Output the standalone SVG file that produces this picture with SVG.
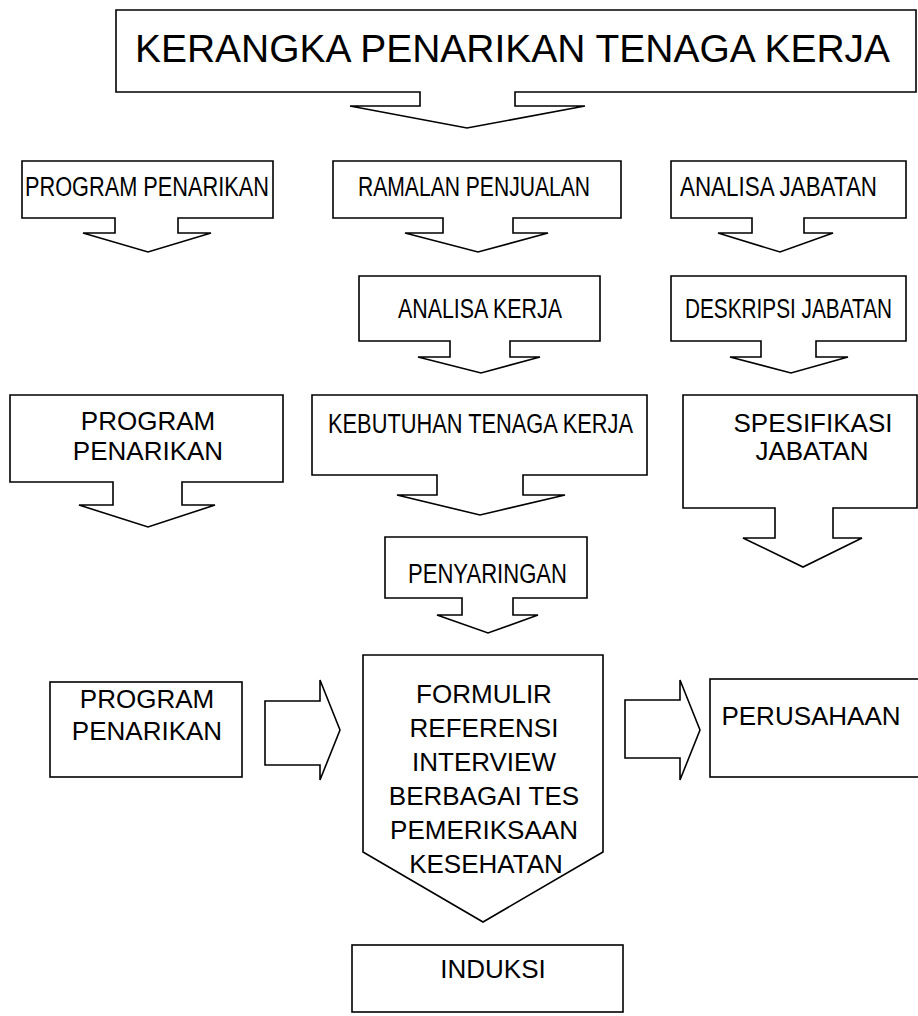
<svg xmlns="http://www.w3.org/2000/svg" width="918" height="1016" viewBox="0 0 918 1016">
<style>
.s{fill:#fff;stroke:#000;stroke-width:1.6;stroke-linejoin:miter}
.t{font-family:"Liberation Sans",Arial,sans-serif;font-size:26px;fill:#000;text-anchor:middle}
.n{font-family:"Liberation Sans Narrow","Liberation Sans",Arial,sans-serif;font-size:27px;fill:#000}
</style>
<rect width="918" height="1016" fill="#fff"/>
<g id="title">
<path class="s" d="M116,10 H916 V92 H515 V106 H585 L467,128 L350,106 H420 V92 H116 Z"/>
<text class="t" style="font-size:39px;text-anchor:start" x="135" y="62" textLength="755" lengthAdjust="spacingAndGlyphs">KERANGKA PENARIKAN TENAGA KERJA</text>
</g>
<g id="program1">
<path class="s" d="M22,161 H273 V218 H178 V233 H211 L148,252 L83,233 H115 V218 H22 Z"/>
<text class="n" x="25" y="196" textLength="244" lengthAdjust="spacingAndGlyphs">PROGRAM PENARIKAN</text>
</g>
<g id="ramalan">
<path class="s" d="M333,161 H621 V218 H513 V233 H548 L478,252 L405,233 H443 V218 H333 Z"/>
<text class="n" x="358" y="196" textLength="232" lengthAdjust="spacingAndGlyphs">RAMALAN PENJUALAN</text>
</g>
<g id="analisa-jabatan">
<path class="s" d="M671,161 H906 V218 H804 V233 H833 L780,252 L718,233 H752 V218 H671 Z"/>
<text class="n" x="680" y="196" textLength="197" lengthAdjust="spacingAndGlyphs">ANALISA JABATAN</text>
</g>
<g id="analisa-kerja">
<path class="s" d="M359,276 H600 V341 H510 V357 H540 L481,373 L418,357 H450 V341 H359 Z"/>
<text class="n" x="398" y="318" textLength="164" lengthAdjust="spacingAndGlyphs">ANALISA KERJA</text>
</g>
<g id="deskripsi">
<path class="s" d="M671,276 H906 V341 H816 V357 H848 L791,373 L730,357 H761 V341 H671 Z"/>
<text style="font-family:'Liberation Sans',Arial,sans-serif;font-size:27px;text-anchor:middle;fill:#000" transform="translate(788.5,318) scale(0.77,1)" x="0" y="0">DESKRIPSI JABATAN</text>
</g>
<g id="program2">
<path class="s" d="M10,395 H283 V482 H182 V505 H215 L148,527 L79,505 H113 V482 H10 Z"/>
<text class="t" x="148" y="430">PROGRAM</text>
<text class="t" x="148" y="460">PENARIKAN</text>
</g>
<g id="kebutuhan">
<path class="s" d="M312,395 H647 V475 H523 V495 H565 L480,515 L397,495 H437 V475 H312 Z"/>
<text class="n" x="328" y="433" textLength="305" lengthAdjust="spacingAndGlyphs">KEBUTUHAN TENAGA KERJA</text>
</g>
<g id="spesifikasi">
<path class="s" d="M683,395 H917 V508 H833 V538 H862 L803,567 L743,538 H775 V508 H683 Z"/>
<text class="t" x="813" y="432">SPESIFIKASI</text>
<text class="t" x="812" y="460">JABATAN</text>
</g>
<g id="penyaringan">
<path class="s" d="M385,537 H587 V598 H513 V615 H538 L488,633 L437,615 H462 V598 H385 Z"/>
<text class="n" x="408" y="583" textLength="159" lengthAdjust="spacingAndGlyphs">PENYARINGAN</text>
</g>
<g id="program3">
<rect class="s" x="50" y="682" width="192" height="95"/>
<text class="t" x="147" y="708">PROGRAM</text>
<text class="t" x="147" y="740">PENARIKAN</text>
</g>
<g id="seleksi">
<path class="s" d="M363,655 H603 V852 L483,922 L363,852 Z"/>
<text class="t" x="484" y="703">FORMULIR</text>
<text class="t" x="484" y="737">REFERENSI</text>
<text class="t" x="484" y="771">INTERVIEW</text>
<text class="t" x="484" y="805">BERBAGAI TES</text>
<text class="t" x="484" y="839">PEMERIKSAAN</text>
<text class="t" x="486" y="873">KESEHATAN</text>
</g>
<g id="perusahaan">
<rect class="s" x="710" y="679" width="210" height="98"/>
<text class="t" x="811" y="725">PERUSAHAAN</text>
</g>
<g id="induksi">
<rect class="s" x="352" y="945" width="271" height="67"/>
<text class="t" x="493" y="978">INDUKSI</text>
</g>
<g id="connectors">
<path class="s" d="M265,701 H320 V680 L340,730 L320,780 V765 H265 Z"/>
<path class="s" d="M625,700 H680 V680 L700,730 L680,780 V758 H625 Z"/>
</g>
</svg>
